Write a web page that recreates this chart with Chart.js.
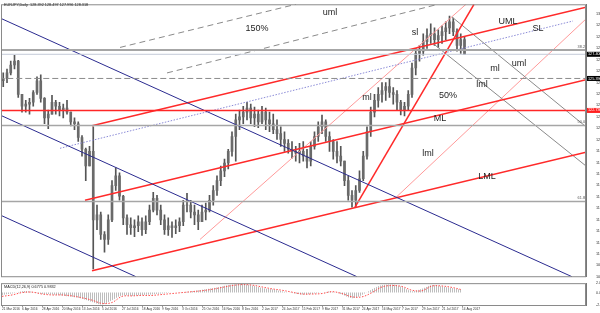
<!DOCTYPE html>
<html>
<head>
<meta charset="utf-8">
<script src="https://cdn.jsdelivr.net/npm/chart.js@4.4.1/dist/chart.umd.min.js"></script>
<style>
html, body { margin: 0; padding: 0; background: #fff; }
#wrap { position: relative; width: 600px; height: 313px; overflow: hidden; background: #fff; }
#main { position: absolute; left: 0; top: 0; }
#osc { position: absolute; left: 0; top: 279px; }
</style>
</head>
<body>
<div id="wrap">
  <canvas id="main" width="600" height="281"></canvas>
  <canvas id="osc" width="600" height="34"></canvas>
</div>
<script>
// EURJPY daily - each candle below groups 3 trading days
const barsPerCandle = 3;
const firstOpen = 125.20;
const hi = [125.85,126.18,126.83,127.32,126.90,124.06,123.57,123.74,124.39,125.53,
            125.69,123.80,122.76,123.98,123.57,123.41,123.25,123.57,122.59,122.11,
            121.78,120.64,119.60,119.74,121.37,114.85,114.28,112.65,114.04,116.89,
            117.95,117.54,115.67,114.04,113.79,113.63,113.96,113.79,113.96,114.85,
            115.91,115.67,114.85,114.04,113.79,113.47,113.63,113.79,115.26,115.83,
            115.26,114.85,114.44,114.85,115.02,115.67,116.48,117.30,118.11,118.68,
            119.50,120.96,122.43,122.76,123.08,123.41,123.25,123.00,122.76,123.08,
            122.92,122.59,122.43,121.94,121.37,120.96,120.31,120.15,119.74,119.99,
            120.15,119.50,120.15,120.96,121.78,122.35,121.94,120.96,120.31,120.15,
            119.74,118.52,117.30,116.07,116.48,117.70,119.33,121.37,123.00,124.06,
            124.63,125.04,125.04,125.37,124.63,124.39,123.57,123.41,124.39,126.67,
            127.89,128.14,129.11,129.52,129.93,129.60,129.44,129.76,130.09,130.58,
            130.42,129.52,129.11,128.87];
const lo = [124.71,125.04,125.69,126.18,123.82,122.59,122.59,122.43,123.08,124.06,
            123.41,121.62,121.21,122.43,122.43,122.27,122.11,122.43,121.45,121.13,
            120.15,118.93,116.89,118.11,109.55,112.81,112.00,110.94,111.59,113.47,
            116.07,115.26,113.22,112.41,112.41,112.24,112.65,112.33,112.49,113.22,
            114.28,114.04,113.22,112.41,112.33,112.16,112.49,112.65,113.14,114.28,
            113.79,113.22,112.81,113.47,113.63,114.28,114.85,115.67,116.48,117.22,
            117.87,118.93,118.52,121.13,121.62,121.94,121.62,121.37,121.29,121.62,
            121.13,120.96,120.80,120.31,119.74,119.33,119.17,118.76,118.52,118.36,
            118.52,117.95,118.11,119.50,120.15,120.80,120.15,119.33,118.68,118.36,
            118.11,116.48,115.26,114.69,114.69,115.91,116.89,118.68,120.56,122.19,
            123.00,123.41,123.57,123.82,123.25,122.76,122.35,122.27,122.76,123.82,
            125.69,126.83,127.32,127.89,128.30,128.14,127.97,128.30,128.62,129.11,
            128.95,127.65,127.48,127.48];
const cl = [125.37,125.85,126.51,126.83,124.06,123.08,123.25,123.41,124.22,125.20,
            123.74,122.11,122.43,123.41,123.08,122.76,122.92,122.59,121.78,121.62,
            120.48,119.50,118.11,119.33,113.63,114.04,112.41,112.00,113.63,116.48,
            117.30,115.59,113.79,113.22,112.98,113.14,113.47,112.81,113.47,114.44,
            115.42,114.44,113.63,112.81,113.14,112.98,113.14,113.47,114.85,114.85,
            114.28,114.04,113.47,114.28,114.44,115.26,116.07,116.89,117.70,118.36,
            119.33,120.56,121.94,122.19,122.59,122.92,122.11,122.43,121.78,122.59,
            121.94,121.62,121.13,120.80,120.31,119.99,119.50,119.33,119.17,119.33,
            118.93,118.52,119.74,120.56,121.37,121.78,120.56,120.15,119.33,118.93,
            118.52,116.89,115.67,115.26,116.07,117.05,118.93,120.96,122.59,123.57,
            124.06,124.39,124.71,124.22,124.06,123.41,122.76,123.08,124.06,126.26,
            127.48,127.65,128.46,128.95,129.11,128.62,128.95,129.28,129.60,130.09,
            129.28,128.14,128.62,127.40];

// right price axis
const yTicks = [108.90,109.85,110.80,111.75,112.70,113.65,114.60,115.55,116.50,117.45,
                118.40,119.35,120.30,121.25,122.20,123.15,124.10,125.05,126.00,126.95,
                127.90,128.85,129.80,130.75];
const dateLabels = ['21 Mar 2016','6 Apr 2016','28 Apr 2016','20 May 2016','13 Jun 2016','5 Jul 2016',
                    '27 Jul 2016','18 Aug 2016','9 Sep 2016','3 Oct 2016','25 Oct 2016','16 Nov 2016',
                    '8 Dec 2016','2 Jan 2017','24 Jan 2017','15 Feb 2017','9 Mar 2017','31 Mar 2017',
                    '24 Apr 2017','16 May 2017','7 Jun 2017','29 Jun 2017','21 Jul 2017','14 Aug 2017'];
const barsPerDateLabel = 16;

// levels
const lastPrice = 127.40;
const dashedLevel = 125.39;
const redLevel = 122.73;
const fibNames = ['38.2', '50.0', '61.8'];
const fibLevels = [127.75, 121.47, 115.16];

// trend lines: [bar, price] end points
const blueChannel = [[[-1.6,130.42],[456,108.90]], [[-1.6,122.35],[284,108.90]], [[-1.6,114.04],[107.2,108.90]]];
const pitchfork = [[[72,121.45],[467.2,131.32]], [[66.4,115.26],[467.2,125.29]], [[72,109.39],[467.2,119.25]]];
const slLine = [[282.4,114.69],[377.6,131.56]];
const schiffDotted = [[46.4,119.58],[456.8,130.17]];
const dashedGray = [[[94.4,127.97],[235.2,131.56]], [[132,125.85],[348.8,131.56]]];
const grayFan = [[[360,130.50],[467.2,121.37]], [[344.8,128.30],[467.2,118.11]]];
const pinkLines = [[[158.4,112.0],[371.2,131.56]], [[315.2,115.50],[467.2,130.34]]];

// MACD panel, one reading every 8 bars
const oscStep = 8;
const macdHist = [-0.5,-0.2,0.3,0.2,-0.3,-0.4,-0.6,-0.9,-1.3,-2.0,-2.5,-1.6,-0.6,-0.7,-0.5,-0.4,
                  -0.2,0.0,0.1,0.3,0.6,0.9,1.3,1.7,1.8,1.5,1.0,0.7,0.3,-0.1,-0.4,-0.3,
                  0.0,0.2,-0.4,-1.2,-0.5,0.7,1.6,1.7,1.2,0.3,0.8,1.6,1.3,1.0,0.6];
const macdSignal = [-0.8,-0.5,0.0,0.1,-0.3,-0.5,-0.5,-0.7,-1.1,-1.6,-2.3,-2.1,-0.8,-0.7,-0.6,-0.6,
                    -0.4,-0.2,0.0,0.2,0.4,0.7,1.1,1.5,1.7,1.6,1.2,0.8,0.5,0.1,-0.3,-0.3,
                    -0.2,0.2,-0.2,-0.9,-0.9,0.0,1.2,1.5,1.3,0.5,0.4,1.4,1.4,1.1,0.6];
const oscTicks = [2.0046, 0, -2.632];
const oscTickText = ['2.0046', '0.00', '-2.632'];

const titleText = 'EURJPY,Daily  128.392 128.497 127.996 128.318';
const oscTitle = 'MACD(12,26,9) 0.6775 0.9832';

// text drawn on the chart (pixel anchors)
const notes = [['150%',257,29],['uml',330,13],['sl',415,33],['UML',508,22],['SL',538,29],
               ['uml',519,64],['ml',495,69],['ml',367,98],['lml',482,85],['50%',448,96],
               ['ML',440,119],['lml',428,154],['LML',487,177]];

Chart.defaults.font.family = "'Liberation Sans', Arial, sans-serif";
const xMax = 467.2;

function seg(pts, color, width, dash) {
    return {
        type: 'line',
        data: pts.map(p => ({ x: p[0], y: p[1] })),
        borderColor: color, borderWidth: width, borderDash: dash || [],
        pointRadius: 0, fill: false, tension: 0, order: 1
    };
}
function hline(v, color, width, dash) {
    return seg([[-3, v], [xMax + 3, v]], color, width, dash);
}

const datasets = [
    {
        label: 'wick',
        data: hi.map((h, k) => ({ x: k * barsPerCandle + 1, y: [lo[k], h] })),
        backgroundColor: '#555', barThickness: 1, grouped: false, order: 10
    },
    {
        label: 'body',
        data: cl.map((c, k) => ({ x: k * barsPerCandle + 1, y: [k ? cl[k - 1] : firstOpen, c] })),
        backgroundColor: '#6a6a6a', barThickness: 2, grouped: false, order: 9
    },
    hline(fibLevels[0], '#a6a6a6', 2),
    hline(lastPrice, '#c4cad8', 1),
    hline(dashedLevel, '#8c8c8c', 1, [6, 3]),
    hline(redLevel, '#ff2626', 1.5),
    hline(fibLevels[1], '#a6a6a6', 1.5),
    hline(fibLevels[2], '#a6a6a6', 1.5)
];
blueChannel.forEach(l => datasets.push(seg(l, '#2b2b90', 1)));
pitchfork.forEach(l => datasets.push(seg(l, '#ff2a2a', 1.5)));
datasets.push(seg(slLine, '#ff2a2a', 1.5));
datasets.push(seg(schiffDotted, '#8c8cd8', 1, [1.5, 1.5]));
dashedGray.forEach(l => datasets.push(seg(l, '#8a8a8a', 1, [6, 4])));
grayFan.forEach(l => datasets.push(seg(l, '#8a8a8a', 1)));
pinkLines.forEach(l => datasets.push(seg(l, '#ff9a9a', 1)));

const mainDecor = {
    id: 'mainDecor',
    beforeDraw(c) {
        const ctx = c.ctx;
        ctx.save();
        ctx.fillStyle = '#fff';
        ctx.fillRect(0, 0, c.width, c.height);
        ctx.restore();
    },
    afterDraw(c) {
        const { ctx, chartArea: a } = c;
        const y = c.scales.y;
        ctx.save();
        ctx.strokeStyle = '#8a8a8a';
        ctx.lineWidth = 1;
        ctx.strokeRect(a.left - 0.5, a.top + 0.5, a.right - a.left, a.bottom - a.top - 0.5);

        ctx.fillStyle = '#222';
        ctx.font = "3.8px 'Liberation Sans', Arial";
        ctx.textAlign = 'left';
        ctx.textBaseline = 'middle';
        ctx.fillText(titleText, 4, 4.5);

        ctx.font = "9px 'Liberation Sans', Arial";
        ctx.fillStyle = '#1e1e1e';
        ctx.textAlign = 'center';
        notes.forEach(n => ctx.fillText(n[0], n[1], n[2]));

        ctx.font = "3.8px 'Liberation Sans', Arial";
        ctx.fillStyle = '#555';
        ctx.textAlign = 'right';
        ctx.textBaseline = 'bottom';
        fibLevels.forEach((v, i) => ctx.fillText(fibNames[i], a.right - 1, y.getPixelForValue(v) - 1.5));

        const tags = [[lastPrice, '#000'], [dashedLevel, '#000'], [redLevel, '#ff2020']];
        ctx.textAlign = 'left';
        ctx.textBaseline = 'middle';
        tags.forEach(t => {
            const py = y.getPixelForValue(t[0]);
            ctx.fillStyle = t[1];
            ctx.fillRect(a.right + 1, py - 2.5, c.width - a.right - 1, 5);
            ctx.fillStyle = '#fff';
            ctx.fillText(t[0].toFixed(3), a.right + 2, py);
        });
        ctx.restore();
    }
};

new Chart(document.getElementById('main'), {
    type: 'bar',
    data: { datasets },
    options: {
        responsive: false, animation: false, devicePixelRatio: 1,
        layout: { padding: { left: 2, top: 0, right: 0, bottom: 3 } },
        plugins: { legend: { display: false }, tooltip: { enabled: false } },
        scales: {
            x: { type: 'linear', min: 0, max: xMax, display: false, offset: false },
            y: {
                position: 'right', min: 108.90, max: 131.56,
                afterFit(s) { s.width = 14; },
                afterBuildTicks(s) { s.ticks = yTicks.map(v => ({ value: v })); },
                ticks: { autoSkip: false, padding: 2, color: '#333', font: { size: 3.8 },
                         callback: v => v.toFixed(3) },
                grid: { display: false },
                border: { display: true, color: '#777' }
            }
        }
    },
    plugins: [mainDecor]
});

// MACD histogram as thin vertical stripes
const stripe = document.createElement('canvas');
stripe.width = 2; stripe.height = 1;
const sctx = stripe.getContext('2d');
sctx.fillStyle = '#bdbdbd';
sctx.fillRect(0, 0, 1, 1);
const stripePattern = document.getElementById('osc').getContext('2d').createPattern(stripe, 'repeat');

const oscDecor = {
    id: 'oscDecor',
    beforeDraw(c) {
        const ctx = c.ctx;
        ctx.save();
        ctx.fillStyle = '#fff';
        ctx.fillRect(0, 0, c.width, c.height);
        ctx.restore();
    },
    afterDraw(c) {
        const { ctx, chartArea: a } = c;
        ctx.save();
        ctx.strokeStyle = '#8a8a8a';
        ctx.lineWidth = 1;
        ctx.strokeRect(a.left - 0.5, a.top + 0.5, a.right - a.left, a.bottom - a.top);
        ctx.fillStyle = '#222';
        ctx.font = "3.8px 'Liberation Sans', Arial";
        ctx.textBaseline = 'middle';
        ctx.fillText(oscTitle, 4, a.top + 4);
        ctx.restore();
    }
};

new Chart(document.getElementById('osc'), {
    type: 'line',
    data: {
        datasets: [
            {
                data: macdSignal.map((v, i) => ({ x: i * oscStep, y: v })),
                borderColor: '#ff5050', borderWidth: 1, borderDash: [1.5, 1.5],
                pointRadius: 0, tension: 0.35, fill: false
            },
            {
                data: macdHist.map((v, i) => ({ x: i * oscStep, y: v })),
                borderWidth: 0, pointRadius: 0, tension: 0.35,
                fill: 'origin', backgroundColor: stripePattern
            }
        ]
    },
    options: {
        responsive: false, animation: false, devicePixelRatio: 1,
        layout: { padding: { left: 2, top: 1, right: 0, bottom: 0 } },
        plugins: { legend: { display: false }, tooltip: { enabled: false } },
        scales: {
            x: {
                type: 'linear', min: 0, max: xMax,
                afterFit(s) { s.height = 8; },
                afterBuildTicks(s) { s.ticks = dateLabels.map((_, i) => ({ value: i * barsPerDateLabel })); },
                ticks: { autoSkip: false, maxRotation: 0, align: 'start', padding: 0.5,
                         color: '#333', font: { size: 3.2 },
                         callback: v => dateLabels[Math.round(v / barsPerDateLabel)] },
                grid: { drawOnChartArea: false, drawTicks: true, tickLength: 2, color: '#999' },
                border: { display: true, color: '#888' }
            },
            y: {
                position: 'right', min: -2.632, max: 2.0046,
                afterFit(s) { s.width = 14; },
                afterBuildTicks(s) { s.ticks = oscTicks.map(v => ({ value: v })); },
                ticks: { autoSkip: false, padding: 2, color: '#333', font: { size: 3.6 },
                         callback: (v, i) => oscTickText[i] },
                grid: { display: false },
                border: { display: true, color: '#777' }
            }
        }
    },
    plugins: [oscDecor]
});
</script>
</body>
</html>
